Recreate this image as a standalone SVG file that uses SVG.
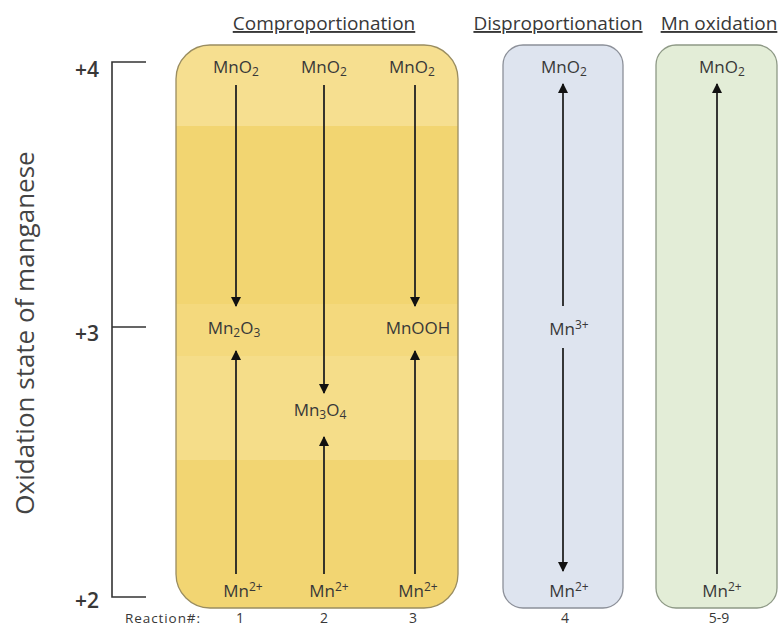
<svg xmlns="http://www.w3.org/2000/svg" width="783" height="628" viewBox="0 0 783 628">
<defs>
<style>
text{font-family:"Open Sans","Liberation Sans",sans-serif;fill:#383838}
.hdr{font-size:19px;text-anchor:middle;text-decoration:underline}
.lbl{font-size:17px;text-anchor:middle}
.sb{font-size:12px}
.ax{font-size:21px;text-anchor:end;font-weight:600}
.num{font-size:14px;text-anchor:middle}
.arr{stroke:#222;stroke-width:1.8;fill:none;marker-end:url(#ah)}
.axl{stroke:#333;stroke-width:1.6;fill:none}
</style>
<marker id="ah" viewBox="0 0 10 10" refX="9" refY="5" markerWidth="11" markerHeight="10" orient="auto" markerUnits="userSpaceOnUse">
<path d="M0,0 L10,5 L0,10 z" fill="#111"/>
</marker>
<clipPath id="yc"><rect x="176" y="45" width="282" height="563" rx="34"/></clipPath>
</defs>
<g id="axis">
<path class="axl" d="M146,62 H112 V597 H146 M112,327 H146"/>
<text class="ax" x="99" y="77">+4</text>
<text class="ax" x="99" y="341">+3</text>
<text class="ax" x="99" y="608">+2</text>
<text x="34" y="333" font-size="26" text-anchor="middle" transform="rotate(-90 34 333)" style="fill:#444">Oxidation state of manganese</text>
</g>
<g id="comproportionation">
<g clip-path="url(#yc)">
<rect x="176" y="45" width="282" height="81" fill="#F6DF90"/>
<rect x="176" y="126" width="282" height="178" fill="#F2D571"/>
<rect x="176" y="304" width="282" height="52" fill="#F4D97D"/>
<rect x="176" y="356" width="282" height="104" fill="#F5DD89"/>
<rect x="176" y="460" width="282" height="148" fill="#F2D572"/>
</g>
<rect x="176" y="45" width="282" height="563" rx="34" fill="none" stroke="#9a8d60" stroke-width="1.3"/>
<text class="hdr" x="324" y="30">Comproportionation</text>
</g>
<g id="disproportionation">
<rect x="503" y="45" width="120" height="563" rx="20" fill="#DEE4EF" stroke="#8c9099" stroke-width="1.3"/>
<text class="hdr" x="558" y="30">Disproportionation</text>
</g>
<g id="mn-oxidation">
<rect x="656" y="45" width="121" height="563" rx="20" fill="#E3EDD7" stroke="#8e9986" stroke-width="1.3"/>
<text class="hdr" x="719" y="30">Mn oxidation</text>
</g>
<g id="n-mno2-1"><text class="lbl" x="236" y="73">MnO<tspan class="sb" dy="3">2</tspan></text></g>
<g id="n-mno2-2"><text class="lbl" x="324" y="73">MnO<tspan class="sb" dy="3">2</tspan></text></g>
<g id="n-mno2-3"><text class="lbl" x="412" y="73">MnO<tspan class="sb" dy="3">2</tspan></text></g>
<g id="n-mno2-4"><text class="lbl" x="564" y="73">MnO<tspan class="sb" dy="3">2</tspan></text></g>
<g id="n-mno2-5"><text class="lbl" x="722" y="73">MnO<tspan class="sb" dy="3">2</tspan></text></g>
<g id="n-mn2o3"><text class="lbl" x="234" y="334">Mn<tspan class="sb" dy="3">2</tspan><tspan dy="-3">O</tspan><tspan class="sb" dy="3">3</tspan></text></g>
<g id="n-mnooh"><text class="lbl" x="418" y="334">MnOOH</text></g>
<g id="n-mn3o4"><text class="lbl" x="320" y="416">Mn<tspan class="sb" dy="3">3</tspan><tspan dy="-3">O</tspan><tspan class="sb" dy="3">4</tspan></text></g>
<g id="n-mn3"><text class="lbl" x="569" y="335">Mn<tspan class="sb" dy="-6">3+</tspan></text></g>
<g id="n-mn2-1"><text class="lbl" x="243" y="597">Mn<tspan class="sb" dy="-6">2+</tspan></text></g>
<g id="n-mn2-2"><text class="lbl" x="329" y="597">Mn<tspan class="sb" dy="-6">2+</tspan></text></g>
<g id="n-mn2-3"><text class="lbl" x="418" y="597">Mn<tspan class="sb" dy="-6">2+</tspan></text></g>
<g id="n-mn2-4"><text class="lbl" x="569" y="597">Mn<tspan class="sb" dy="-6">2+</tspan></text></g>
<g id="n-mn2-5"><text class="lbl" x="722" y="597">Mn<tspan class="sb" dy="-6">2+</tspan></text></g>
<g id="connectors">
<line class="arr" x1="236" y1="85" x2="236" y2="306"/>
<line class="arr" x1="236" y1="574" x2="236" y2="351"/>
<line class="arr" x1="324" y1="85" x2="324" y2="393"/>
<line class="arr" x1="324" y1="574" x2="324" y2="437"/>
<line class="arr" x1="415" y1="85" x2="415" y2="306"/>
<line class="arr" x1="415" y1="574" x2="415" y2="351"/>
<line class="arr" x1="563" y1="306" x2="563" y2="84"/>
<line class="arr" x1="563" y1="348" x2="563" y2="571"/>
<line class="arr" x1="717" y1="574" x2="717" y2="84"/>
</g>
<g id="reaction-numbers">
<text x="125" y="623" font-size="13.5" textLength="75" style="fill:#383838">Reaction#:</text>
<text class="num" x="240" y="623">1</text>
<text class="num" x="324" y="623">2</text>
<text class="num" x="413" y="623">3</text>
<text class="num" x="565" y="623">4</text>
<text class="num" x="719" y="623">5-9</text>
</g>
</svg>
